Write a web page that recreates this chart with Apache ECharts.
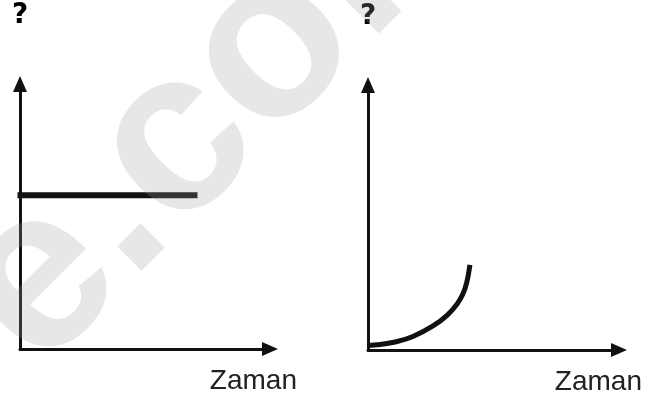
<!DOCTYPE html>
<html>
<head>
<meta charset="utf-8">
<script src="https://cdn.jsdelivr.net/npm/echarts@6/dist/echarts.min.js"></script>
<style>
  html, body { margin: 0; padding: 0; background: #ffffff; }
  #chart { width: 665px; height: 400px; }
</style>
</head>
<body>
<div id="chart"></div>
<script>
// Axis titles
const xAxisName = 'Zaman';
const yAxisName = '?';

// Left panel: quantity that stays constant over time
const constantSeries = [[-0.1, 5.8], [7.1, 5.8]];

// Right panel: quantity that grows ever faster over time
const risingSeries = [
  [-0.04, 0.17], [0.48, 0.21], [1.16, 0.32], [1.79, 0.51], [2.59, 0.91],
  [3.15, 1.31], [3.55, 1.74], [3.78, 2.11], [3.94, 2.57], [4.06, 3.21]
];

// Background site mark
const watermarkText = 'e.com';

const ink = '#111111';

function xAxisFor(gridIndex, gap) {
  return {
    type: 'value', gridIndex: gridIndex, min: 0, max: 10,
    name: xAxisName, nameLocation: 'end', nameGap: gap,
    nameTextStyle: {
      color: '#222222', fontSize: 28, fontFamily: '"Liberation Sans", Arial, sans-serif',
      align: 'right', verticalAlign: 'top', padding: [18, 0, 0, 0]
    },
    axisLine: {
      show: true, onZero: false, symbol: ['none', 'triangle'], symbolSize: [14, 16],
      lineStyle: { color: ink, width: 3 }
    },
    axisTick: { show: false }, axisLabel: { show: false }, splitLine: { show: false }
  };
}

function yAxisFor(gridIndex) {
  return {
    type: 'value', gridIndex: gridIndex, min: 0, max: 10,
    name: yAxisName, nameLocation: 'end', nameGap: 54,
    nameTextStyle: {
      color: '#000000', fontSize: 28, fontWeight: 'bold',
      fontFamily: '"DejaVu Sans", sans-serif'
    },
    axisLine: {
      show: true, onZero: false, symbol: ['none', 'triangle'], symbolSize: [14, 16],
      lineStyle: { color: ink, width: 3 }
    },
    axisTick: { show: false }, axisLabel: { show: false }, splitLine: { show: false }
  };
}

const chart = echarts.init(document.getElementById('chart'), null, { renderer: 'canvas' });

chart.setOption({
  animation: false,
  backgroundColor: '#ffffff',
  grid: [
    { left: 20, right: 395, top: 84, bottom: 51 },
    { left: 368, right: 46, top: 85, bottom: 50 }
  ],
  xAxis: [xAxisFor(0, 27), xAxisFor(1, 23)],
  yAxis: [yAxisFor(0), yAxisFor(1)],
  series: [
    {
      type: 'line', xAxisIndex: 0, yAxisIndex: 0, data: constantSeries,
      showSymbol: false, clip: false,
      lineStyle: { color: ink, width: 6, cap: 'butt' }
    },
    {
      type: 'line', xAxisIndex: 1, yAxisIndex: 1, data: risingSeries,
      showSymbol: false, clip: false, smooth: 0.35,
      lineStyle: { color: ink, width: 5, cap: 'butt', join: 'round' }
    }
  ],
  graphic: [
    {
      type: 'text', x: 76, y: 410, rotation: 45 * Math.PI / 180,
      silent: true, z: 100,
      style: {
        text: watermarkText,
        font: 'bold 232px "Liberation Sans", Arial, sans-serif',
        fill: 'rgba(160,160,160,0.25)',
        align: 'left', verticalAlign: 'bottom'
      }
    }
  ]
});
</script>
</body>
</html>
